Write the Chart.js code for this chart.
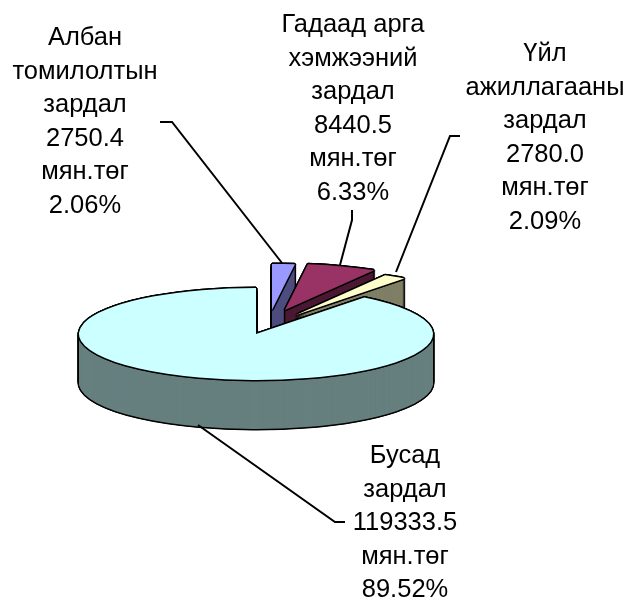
<!DOCTYPE html>
<html>
<head>
<meta charset="utf-8">
<script src="https://cdn.jsdelivr.net/npm/chart.js@4"></script>
<style>
  html, body { margin: 0; padding: 0; background: #fff; }
  canvas { display: block; }
</style>
</head>
<body>
<canvas id="pieChart" width="627" height="599"></canvas>
<script>
// values, clockwise from 12 o'clock
var categories = ["Албан томилолтын зардал", "Гадаад арга хэмжээний зардал", "Үйл ажиллагааны зардал", "Бусад зардал"];
var amounts = [2750.4, 8440.5, 2780.0, 119333.5];
var topColors = ["#9999FF", "#993366", "#FFFFCC", "#CCFFFF"];
var wallColors = ["#4C4C7F", "#4C1933", "#7F7F66", "#667F7F"];

// how far each slice is pulled out, px on screen
var explodeX = [16, 29, 40, 0];
var explodeY = [-24, -24, -19, 0];

var centerX = 256, centerY = 334;
var radius = 177, squash = 0.26, depth = 49;

var labels = [
    {x: 85, y: 45, lines: ["Албан", "томилолтын", "зардал", "2750.4", "мян.төг", "2.06%"]},
    {x: 353, y: 32, lines: ["Гадаад арга", "хэмжээний", "зардал", "8440.5", "мян.төг", "6.33%"]},
    {x: 545, y: 61, lines: ["Үйл", "ажиллагааны", "зардал", "2780.0", "мян.төг", "2.09%"]},
    {x: 405, y: 463, lines: ["Бусад", "зардал", "119333.5", "мян.төг", "89.52%"]}
];
var leaders = [
    [[160, 122], [172, 122], [282, 263]],
    [[352, 210], [352, 220], [340, 265]],
    [[460, 136], [450, 136], [396, 272]],
    [[198, 425], [335, 522], [345, 522]]
];
var lineStep = 33.6;

function drawSlice(ctx, arc, dx, dy, color) {
    var saved = arc.options;
    arc.options = Object.assign({}, saved, {backgroundColor: color, borderWidth: 0, offset: 0});
    ctx.save();
    ctx.translate(centerX + dx, centerY + dy);
    ctx.scale(1, squash);
    ctx.translate(-arc.x, -arc.y);
    arc.draw(ctx);
    ctx.restore();
    arc.options = saved;
}

function outlined(ctx, arc, dx, dy) {
    // black copies around the shape make a line of even width under the squash
    var w = 1.5;
    [[-w, 0], [w, 0], [0, -w], [0, w], [-1, -1], [1, -1], [-1, 1], [1, 1]].forEach(function (o) {
        drawSlice(ctx, arc, dx + o[0], dy + o[1], "#000");
    });
}

var pie3d = {
    id: "pie3d",
    beforeDatasetDraw: function (chart) {
        var ctx = chart.ctx;
        chart.getDatasetMeta(0).data.forEach(function (arc, i) {
            var dx = explodeX[i], dy = explodeY[i], d;
            for (d = depth; d >= 0; d--) outlined(ctx, arc, dx, dy + d);
            for (d = depth; d >= 0; d--) drawSlice(ctx, arc, dx, dy + d, wallColors[i]);
            outlined(ctx, arc, dx, dy);
            drawSlice(ctx, arc, dx, dy, topColors[i]);
        });
        return false;
    },
    afterDraw: function (chart) {
        var ctx = chart.ctx;
        ctx.save();
        ctx.strokeStyle = "#000";
        ctx.lineWidth = 2;
        leaders.forEach(function (pts) {
            ctx.beginPath();
            pts.forEach(function (p, i) {
                if (i === 0) ctx.moveTo(p[0], p[1]); else ctx.lineTo(p[0], p[1]);
            });
            ctx.stroke();
        });
        ctx.fillStyle = "#000";
        ctx.font = '25.5px "Liberation Sans", Arial, sans-serif';
        ctx.textAlign = "center";
        ctx.textBaseline = "alphabetic";
        labels.forEach(function (l) {
            l.lines.forEach(function (t, i) {
                ctx.fillText(t, l.x, l.y + i * lineStep);
            });
        });
        ctx.restore();
    }
};

var chart = new Chart(document.getElementById("pieChart").getContext("2d"), {
    type: "pie",
    data: {
        labels: categories,
        datasets: [{
            data: amounts,
            backgroundColor: topColors,
            borderWidth: 0,
            radius: radius
        }]
    },
    options: {
        responsive: false,
        animation: false,
        plugins: {
            legend: {display: false},
            tooltip: {enabled: false}
        }
    },
    plugins: [pie3d]
});
</script>
</body>
</html>
